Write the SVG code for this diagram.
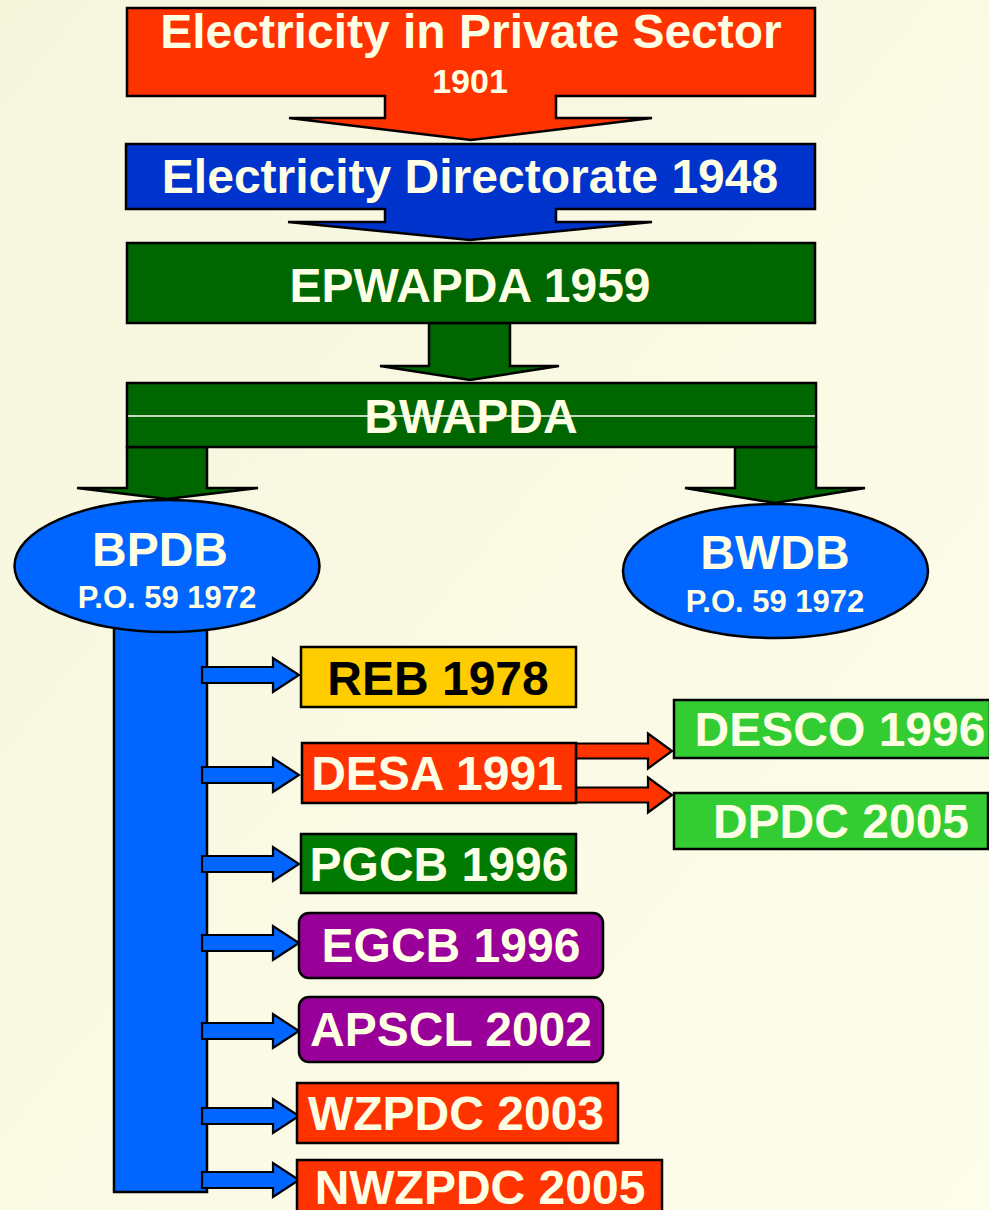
<svg xmlns="http://www.w3.org/2000/svg" xmlns:xlink="http://www.w3.org/1999/xlink" width="989" height="1210" viewBox="0 0 989 1210">
<defs>
<linearGradient id="bg" x1="0" y1="0" x2="1" y2="1">
<stop offset="0" stop-color="#F6F6DD"/>
<stop offset="1" stop-color="#FDFDEC"/>
</linearGradient>
<path id="barrow" d="M202,-8 H273 V-17 L299,0 L273,17 V8 H202 Z"/>
<path id="rarrow" d="M576,-7.5 H648 V-17.5 L672,0 L648,17.5 V7.5 H576 Z"/>
<style>
.lbl{font-family:"Liberation Sans",Arial,sans-serif;font-weight:bold;fill:#FFFFE5;text-anchor:middle}
.big{font-size:48px}
.sm{font-size:31px}
.dk{fill:#000000}
.bx{stroke:#000;stroke-width:2.5}
.red{fill:#FF3300}
.blue{fill:#0033CC}
.dg{fill:#006600}
.lb{fill:#0066FF}
.ba{fill:#0066FF;stroke:#000;stroke-width:2.2}
.ra{fill:#FF3300;stroke:#000;stroke-width:2.2}
.ga{fill:#006600;stroke:#000;stroke-width:2.5}
</style>
</defs>
<rect x="0" y="0" width="989" height="1210" fill="url(#bg)"/>

<g id="connectors">
<polygon class="ga" points="429,323 510,323 510,366 559,366 470,380 380,366 429,366"/>
<polygon class="ga" points="127,447 207,447 207,488 258,488 167,499 77,488 127,488"/>
<polygon class="ga" points="735,447 816,447 816,488 865,488 775,503 685,488 735,488"/>
<rect id="bpdb-trunk" x="114" y="610" width="93" height="582" class="bx lb"/>
<use xlink:href="#barrow" href="#barrow" class="ba" transform="translate(0,675)"/>
<use xlink:href="#barrow" href="#barrow" class="ba" transform="translate(0,775)"/>
<use xlink:href="#barrow" href="#barrow" class="ba" transform="translate(0,864)"/>
<use xlink:href="#barrow" href="#barrow" class="ba" transform="translate(0,943)"/>
<use xlink:href="#barrow" href="#barrow" class="ba" transform="translate(0,1031)"/>
<use xlink:href="#barrow" href="#barrow" class="ba" transform="translate(0,1116)"/>
<use xlink:href="#barrow" href="#barrow" class="ba" transform="translate(0,1180)"/>
<use xlink:href="#rarrow" href="#rarrow" class="ra" transform="translate(0,751)"/>
<use xlink:href="#rarrow" href="#rarrow" class="ra" transform="translate(0,795)"/>
</g>

<g id="private-sector">
<path class="bx red" d="M127,8 H815 V96 H556 V118 H652 L471,140 L289,118 H385 V96 H127 Z"/>
<text class="lbl big" x="471" y="48">Electricity in Private Sector</text>
<text class="lbl" style="font-size:34px" x="470" y="93">1901</text>
</g>

<g id="directorate">
<path class="bx blue" d="M126,144 H815 V209 H556 V222 H652 L470,240 L288,222 H385 V209 H126 Z"/>
<text class="lbl big" x="470" y="193">Electricity Directorate 1948</text>
</g>

<g id="epwapda">
<rect class="bx dg" x="127" y="243" width="688" height="80"/>
<text class="lbl big" x="470" y="302">EPWAPDA 1959</text>
</g>

<g id="bwapda">
<rect class="bx dg" x="127" y="383" width="689" height="64"/>
<line x1="128" y1="416" x2="815" y2="416" stroke="#FFFFFF" stroke-width="1.4"/>
<text class="lbl big" x="471" y="433">BWAPDA</text>
</g>

<g id="bpdb">
<ellipse class="bx lb" cx="167" cy="566" rx="152.5" ry="66"/>
<text class="lbl big" x="160" y="566">BPDB</text>
<text class="lbl sm" x="167" y="608">P.O. 59 1972</text>
</g>

<g id="bwdb">
<ellipse class="bx lb" cx="775.5" cy="571" rx="152.5" ry="67"/>
<text class="lbl big" x="775" y="569">BWDB</text>
<text class="lbl sm" x="775" y="612">P.O. 59 1972</text>
</g>

<g id="reb">
<rect class="bx" fill="#FFCC00" x="301" y="647" width="275" height="60"/>
<text class="lbl big dk" x="438" y="695">REB 1978</text>
</g>

<g id="desa">
<rect class="bx red" x="302" y="743" width="274" height="60"/>
<text class="lbl big" x="437" y="790">DESA 1991</text>
</g>

<g id="desco">
<rect class="bx" fill="#33CC33" x="674" y="700" width="316" height="58"/>
<text class="lbl big" x="840" y="746">DESCO 1996</text>
</g>

<g id="dpdc">
<rect class="bx" fill="#33CC33" x="674" y="793" width="314" height="56"/>
<text class="lbl big" x="841" y="838">DPDC 2005</text>
</g>

<g id="pgcb">
<rect class="bx" fill="#007A00" x="301" y="834" width="275" height="59"/>
<text class="lbl big" x="439" y="881">PGCB 1996</text>
</g>

<g id="egcb">
<rect class="bx" fill="#990099" x="299" y="913" width="304" height="65" rx="10"/>
<text class="lbl big" x="451" y="962">EGCB 1996</text>
</g>

<g id="apscl">
<rect class="bx" fill="#990099" x="299" y="997" width="304" height="65" rx="10"/>
<text class="lbl big" x="451" y="1046">APSCL 2002</text>
</g>

<g id="wzpdc">
<rect class="bx red" x="297" y="1083" width="321" height="60"/>
<text class="lbl big" x="456" y="1130">WZPDC 2003</text>
</g>

<g id="nwzpdc">
<rect class="bx red" x="297" y="1160" width="365" height="60"/>
<text class="lbl big" x="480" y="1204">NWZPDC 2005</text>
</g>
</svg>
